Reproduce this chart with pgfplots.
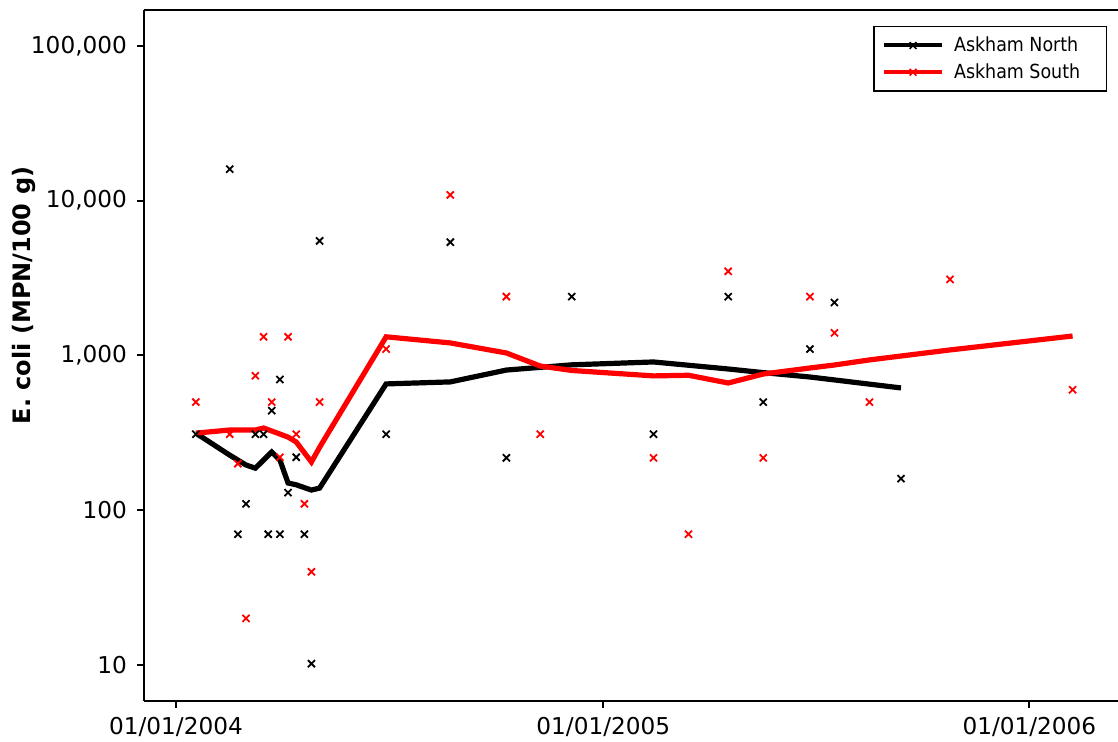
\documentclass[border=0pt]{standalone}
\usepackage{pgfplots}
\pgfplotsset{compat=1.18}
\usepackage{fontspec}
\setmainfont{DejaVu Sans}
\newfontfamily\condfont{DejaVu Sans Condensed}
\begin{document}
\begin{tikzpicture}
\begin{axis}[
  scale only axis,
  width=487pt, height=345.5pt,
  xmin=-27.4, xmax=806.9,
  ymode=log, ymin=5.853, ymax=170800,
  axis lines*=left,
  axis line style={line width=1pt},
  tick style={line width=1pt, black},
  tick align=outside,
  major tick length=3.5pt,
  yminorticks=false,
  xtick={0,366,731},
  xticklabels={01/01/2004,01/01/2005,01/01/2006},
  ytick={10,100,1000,10000,100000},
  yticklabels={10,100,{1,000},{10,000},{100,000}},
  ticklabel style={font=\fontsize{11.6}{14}\selectfont},
  yticklabel style={xshift=-1.5pt},
  xticklabel style={yshift=-1.2pt},
  /pgf/number format/assume math mode=true,
  ylabel={\bfseries E. coli (MPN/100 g)},
  ylabel style={font=\fontsize{12}{14}\selectfont, yshift=-9pt, xshift=30pt},
  legend style={draw=black, line width=0.75pt, font=\condfont\fontsize{9.7}{13}\selectfont,
    at={(rel axis cs:0.9887,0.977)}, anchor=north east,
    inner xsep=4pt, inner ysep=3pt, row sep=0.5pt},
  legend cell align=left,
  legend image code/.code={
    \draw[#1,mark=none] (0pt,0pt) -- (29pt,0pt);
    \draw[#1,only marks] plot coordinates {(14.5pt,0pt)};
    \path (32pt,0pt);
  },
]
% smoothed lines
\addplot[black, line width=2.6pt, mark=none, forget plot] table {
17 315
46 227
53 211
60 196
68 187
82 238
89 211
96 150
103 146
116 135
123 139
180 655
235 675
283 805
339 870
409 908
473 818
503 775
543 726
564 695
621 617
};
\addplot[red, line width=2.6pt, mark=none, forget plot] table {
17 315
46 330
68 330
75 340
82 325
96 297
103 276
116 205
123 255
180 1320
235 1205
283 1038
312 855
339 800
409 738
439 745
473 664
503 759
543 830
564 868
594 936
663 1086
768 1336
};
% scatter
\addplot[only marks, mark=x, mark size=2.5pt, black, line width=0.9pt, forget plot] table {
17 310
46 16000
53 70
60 110
68 310
75 310
79 70
82 440
89 70
89 700
96 130
103 220
110 70
116 10.2
123 5500
180 310
235 5400
283 218
339 2400
409 310
473 2400
503 500
543 1100
564 2200
621 160
};
\addplot[only marks, mark=x, mark size=2.5pt, red, line width=0.9pt, forget plot] table {
17 500
46 310
53 200
60 20
68 740
75 1320
82 500
89 220
96 1320
103 310
110 110
116 40
123 500
180 1100
235 10900
283 2400
312 310
409 218
439 70
473 3500
503 218
543 2400
564 1400
594 500
663 3100
768 600
};
\addlegendimage{black, line width=2pt, mark=x, mark options={line width=0.8pt, mark size=2.4pt}}
\addlegendentry{Askham North\hspace{7pt}\null}
\addlegendimage{red, line width=2pt, mark=x, mark options={line width=0.8pt, mark size=2.4pt}}
\addlegendentry{Askham South\hspace{7pt}\null}
\draw[line width=1pt] (rel axis cs:0,1) -- (rel axis cs:1,1);
\end{axis}
\pgfresetboundingbox
\path ([shift={(-72pt,-20.5pt)}]current axis.south west) rectangle ([yshift=5pt]current axis.north east);
\end{tikzpicture}
\end{document}
